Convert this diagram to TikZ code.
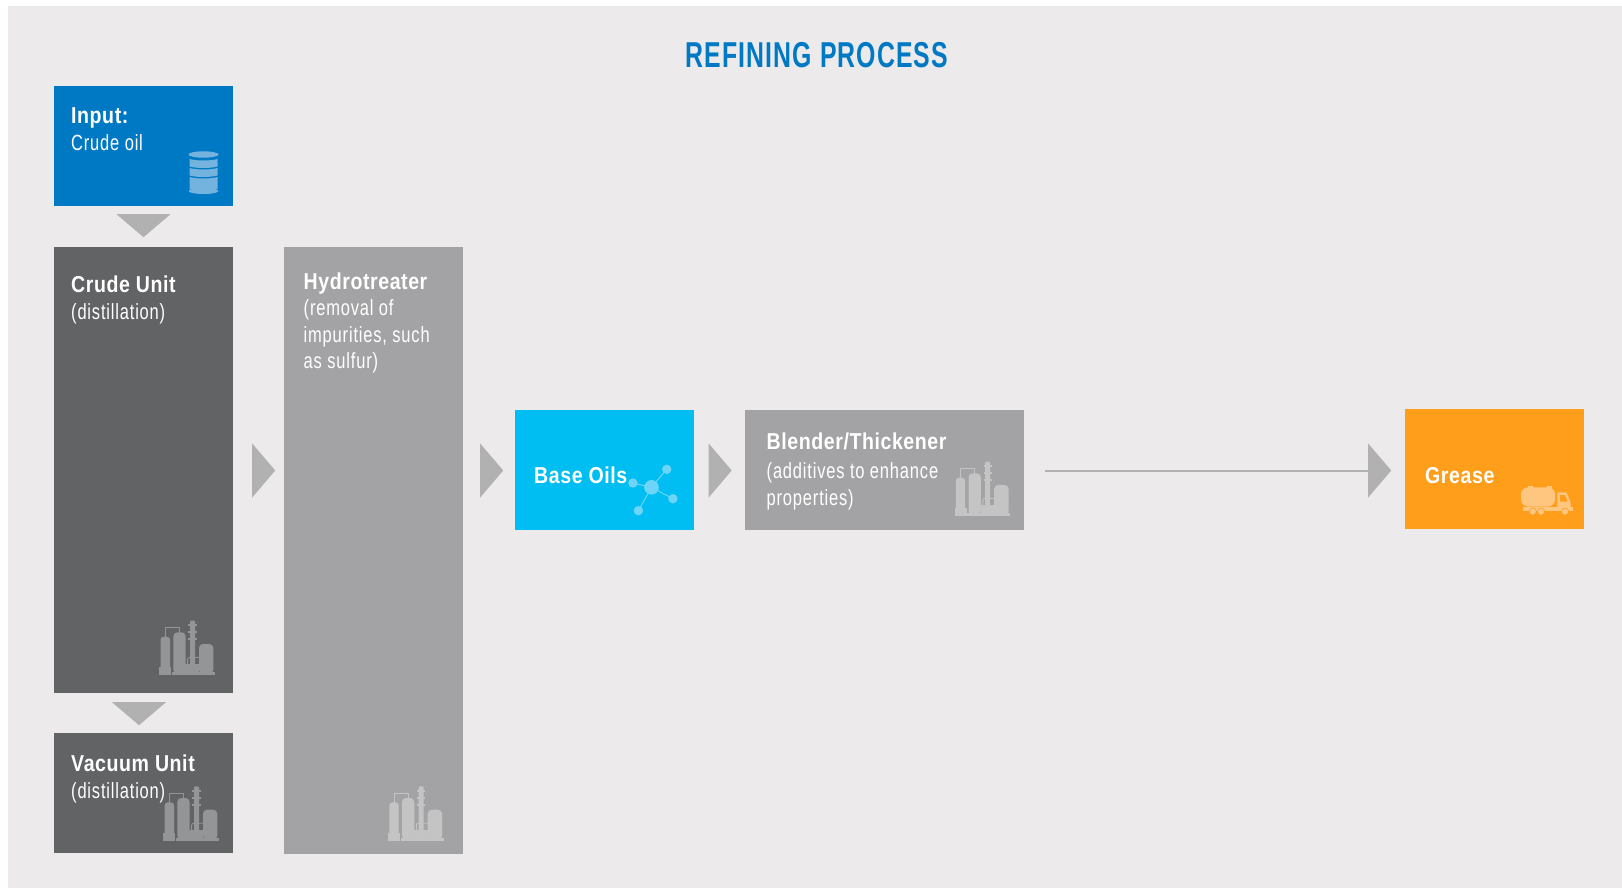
\documentclass[tikz,border=0pt]{standalone}
\usepackage{fontspec}
\setmainfont[FakeStretch=0.75,LetterSpace=3.7]{Liberation Sans}
\newfontfamily\titlefont[FakeStretch=0.85,LetterSpace=2.5]{Liberation Sans Bold}
\newfontfamily\headfont[FakeStretch=0.69,LetterSpace=3]{Liberation Sans Bold}
\usetikzlibrary{arrows.meta, shapes.geometric, positioning}
\usepackage{xcolor}
\definecolor{paper}{RGB}{236,234,235}
\definecolor{inputblue}{RGB}{0,121,196}
\definecolor{unitdark}{RGB}{98,99,101}
\definecolor{unitgrey}{RGB}{163,163,165}
\definecolor{baseblue}{RGB}{0,189,242}
\definecolor{greaseorange}{RGB}{255,158,27}
\definecolor{tipgrey}{RGB}{178,177,178}
\definecolor{icondark}{RGB}{148,149,151}
\definecolor{icongrey}{RGB}{196,196,197}
\definecolor{iconblue}{RGB}{116,179,222}
\definecolor{iconcyan}{RGB}{109,213,247}
\definecolor{iconorange}{RGB}{255,198,128}
\newcommand{\boxhead}[1]{{\titlefont\fontsize{23}{26.5}\selectfont #1}}
\tikzset{
    unitbox/.style={shape=rectangle, anchor=north west, inner sep=0pt, minimum width=179pt},
    boxtext/.style={anchor=base west, inner sep=0pt, align=left, text=white, font=\fontsize{22}{26.5}\selectfont},
    righttip/.style={shape=isosceles triangle, isosceles triangle stretches, fill=tipgrey, anchor=west, inner sep=0pt, minimum width=54pt, minimum height=23pt},
    downtip/.style={shape=isosceles triangle, isosceles triangle stretches, shape border rotate=-90, fill=tipgrey, anchor=north, inner sep=0pt, minimum width=54pt, minimum height=23pt},
    pics/refinery/.style={code={
        \fill[#1] (0pt, 0pt) rectangle (12pt, 8pt);
        \fill[#1, rounded corners=3pt] (1.3pt, 3pt) -- (1.3pt, 38.3pt) -- (10.7pt, 38.3pt) -- (10.7pt, 3pt) -- cycle;
        \fill[#1] (12.7pt, 0pt) rectangle (55.7pt, 3pt);
        \fill[#1, rounded corners=4pt] (14pt, 1pt) -- (14pt, 42.7pt) -- (26.3pt, 42.7pt) -- (26.3pt, 1pt) -- cycle;
        \fill[#1] (26pt, 1pt) rectangle (40pt, 10.7pt);
        \fill[#1, rounded corners=1pt] (30.7pt, 1pt) -- (30.7pt, 54.3pt) -- (35.7pt, 54.3pt) -- (35.7pt, 1pt) -- cycle;
        \foreach \y in {35pt, 42pt, 49pt} {
            \fill[#1] (29pt, \y) rectangle (37.3pt, \y+2pt);
        }
        \fill[#1, rounded corners=4pt] (39.7pt, 1pt) -- (39.7pt, 31pt) -- (54pt, 31pt) -- (54pt, 1pt) -- cycle;
        \draw[#1, line width=0.9pt] (6pt, 38pt) -- (6pt, 47.7pt) -- (20pt, 47.7pt) -- (20pt, 42pt);
        \draw[#1, line width=0.9pt, rounded corners=2pt] (28.3pt, 10pt) -- (28.3pt, 17.5pt) -- (40pt, 17.5pt);
    }},
    pics/barrel/.style={code={
        \fill[iconblue] (0pt, 18.5pt) ellipse (15pt and 3.2pt);
        \foreach \top/\bottom in {14pt/6.5pt, 5pt/-2.5pt, -4pt/-16pt} {
            \fill[iconblue] (-14pt, \top) .. controls (-7pt, \top-2pt) and (7pt, \top-2pt) .. (14pt, \top)
                -- (14pt, \bottom) .. controls (7pt, \bottom-2pt) and (-7pt, \bottom-2pt) .. (-14pt, \bottom) -- cycle;
        }
        \fill[iconblue] (0pt, -18pt) ellipse (15pt and 3pt);
    }},
    pics/molecule/.style={code={
        \foreach \x/\y in {15.2pt/18pt, -18.6pt/4.3pt, 21.4pt/-11.4pt, -13.1pt/-23.4pt} {
            \draw[iconcyan, line width=1pt] (0pt, 0pt) -- (\x, \y);
            \fill[iconcyan] (\x, \y) circle (4.7pt);
        }
        \fill[iconcyan] (0pt, 0pt) circle (7.3pt);
    }},
    pics/truck/.style={code={
        \fill[iconorange, rounded corners=7pt] (0pt, 5.5pt) rectangle (34pt, 24.7pt);
        \fill[iconorange] (7.3pt, 24pt) rectangle (12.3pt, 26.3pt);
        \fill[iconorange] (26.3pt, 24pt) rectangle (30.7pt, 26.3pt);
        \fill[iconorange] (1.7pt, 1pt) rectangle (51.7pt, 4.7pt);
        \fill[iconorange, rounded corners=1pt] (36.3pt, 3pt) -- (36.3pt, 19.7pt) -- (45.5pt, 19.7pt) -- (49.5pt, 10pt) -- (49.5pt, 3pt) -- cycle;
        \fill[greaseorange] (39pt, 10.5pt) -- (39pt, 17pt) -- (44pt, 17pt) -- (46.5pt, 10.5pt) -- cycle;
        \foreach \x in {11.7pt, 20pt, 44pt} {
            \filldraw[fill=iconorange, draw=greaseorange, line width=0.6pt] (\x, 0.5pt) circle (3.6pt);
        }
    }}
}
\begin{document}
\begin{tikzpicture}[line join=bevel]
    \useasboundingbox (0pt, 0pt) rectangle (1622pt, -889pt);
    \fill[paper] (8pt, -6pt) rectangle (1622pt, -888pt);
    % Title
    \node[anchor=base, inner sep=0pt, text=inputblue, font=\fontsize{36}{44}\headfont] (title) at (817pt, -67pt) {REFINING PROCESS};
    % Boxes
    \node[unitbox, fill=inputblue, minimum height=120pt] (input) at (54pt, -86pt) {};
    \node[unitbox, fill=unitdark, minimum height=446pt] (crude) at (54pt, -247pt) {};
    \node[unitbox, fill=unitdark, minimum height=120pt] (vacuum) at (54pt, -733pt) {};
    \node[unitbox, fill=unitgrey, minimum height=607pt] (hydro) at (284pt, -247pt) {};
    \node[unitbox, fill=baseblue, minimum height=120pt] (base) at (515pt, -410pt) {};
    \node[unitbox, fill=unitgrey, minimum width=279pt, minimum height=120pt] (blender) at (745pt, -410pt) {};
    \node[unitbox, fill=greaseorange, minimum height=120pt] (grease) at (1405pt, -409pt) {};
    % Texts
    \node[boxtext] (inputtext) at (71pt, -150pt) {\boxhead{Input:}\\Crude oil};
    \node[boxtext] (crudetext) at (71pt, -319.5pt) {\boxhead{Crude Unit}\\[0.5pt](distillation)};
    \node[boxtext] (vacuumtext) at (71pt, -798pt) {\boxhead{Vacuum Unit}\\(distillation)};
    \node[boxtext] (hydrotext) at (303.5pt, -368.5pt) {\boxhead{Hydrotreater}\\(removal of\\impurities, such\\as sulfur)};
    \node[boxtext] (basetext) at (534pt, -483pt) {\boxhead{Base Oils}};
    \node[boxtext] (blendertext) at (766.5pt, -505pt) {\boxhead{Blender/Thickener}\\[2.5pt](additives to enhance\\properties)};
    \node[boxtext] (greasetext) at (1425pt, -483pt) {\boxhead{Grease}};
    % Arrow tips
    \node[downtip] (tipinput) at (143.5pt, -214pt) {};
    \node[downtip] (tipcrude) at (139pt, -702pt) {};
    \foreach \name/\x in {tipunit/252pt, tiphydro/480pt, tipbase/708.5pt, tipblender/1368pt} {
        \node[righttip] (\name) at (\x, -470.5pt) {};
    }
    % Line
    \draw[tipgrey, line width=2pt, shorten <=21pt] (blender.east |- tipblender.west) -- (tipblender.west);
    % Icons
    \pic at (203.5pt, -173pt) {barrel};
    \pic at (651.5pt, -487.3pt) {molecule};
    \pic at (1521pt, -512pt) {truck};
    \foreach \x/\y/\col in {159.3pt/-675pt/icondark, 163.3pt/-840.7pt/icondark, 388pt/-840.7pt/icongrey, 954.5pt/-516pt/icongrey} {
        \pic at (\x, \y) {refinery=\col};
    }
\end{tikzpicture}
\end{document}
